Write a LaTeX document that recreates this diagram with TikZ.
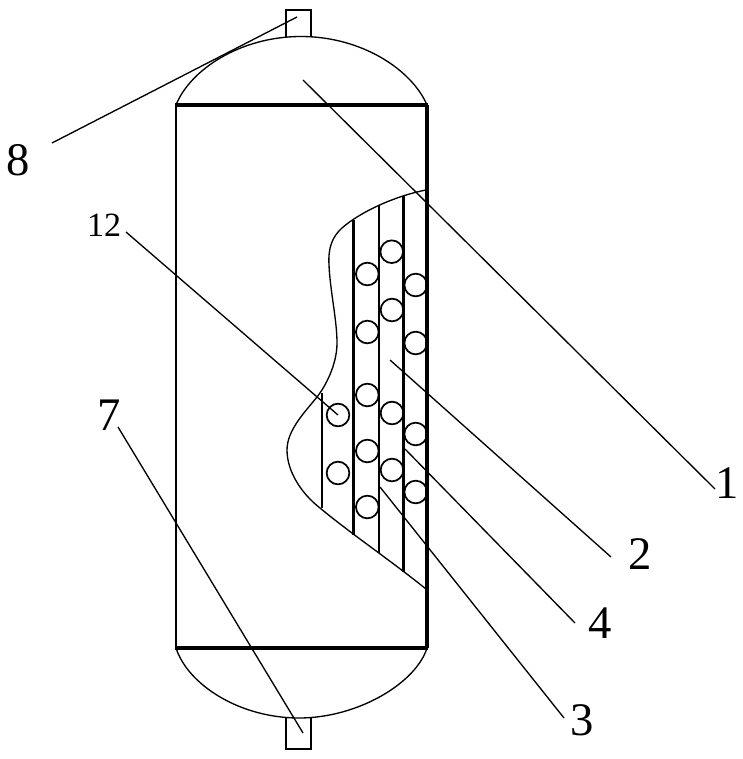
\documentclass[tikz,border=0pt]{standalone}
\usepackage{fontspec}
\setmainfont{Liberation Serif}
\tikzset{
 wall/.style={line width=2.6pt,black},
 sidewall/.style={line width=1.5pt,black},
 rightwall/.style={line width=2.4pt,black},
 outline/.style={line width=1.2pt,black},
 fine/.style={line width=1pt,black},
 tube/.style={line width=1.7pt,black},
 tubethin/.style={line width=1.1pt,black},
 leader/.style={line width=1pt,black},
 ball/.style={circle,draw=black,line width=1.3pt,minimum size=17pt,inner sep=0pt},
 lab/.style={font=\fontsize{35}{35}\selectfont,inner sep=0pt},
 smalllab/.style={font=\fontsize{25.5}{25.5}\selectfont,inner sep=0pt}
}
\begin{document}
\begin{tikzpicture}[x=0.75pt,y=-0.75pt]
\useasboundingbox (0,0) rectangle (742,759);
\fill[white] (0,0) rectangle (742,759);
% nozzles
\draw[outline] (286,37) -- (286,10) -- (311,10) -- (311,37);
\draw[outline] (286,718) -- (286,749) -- (311,749) -- (311,718);
% heads
\draw[fine] (176,105) .. controls (190,70) and (240,36.5) .. (301,36.5) .. controls (362,36.5) and (412,70) .. (427,105);
\draw[fine] (176,648) .. controls (188,685) and (240,718) .. (299,718) .. controls (358,718) and (416,683) .. (427,648);
% body
\draw[wall] (175,105) -- (428,105);
\draw[wall] (175,648) -- (428,648);
\draw[sidewall] (176,105) -- (176,648);
\draw[rightwall] (427,105) -- (427,648);
% cut-away
\draw[fine] (426,190) .. controls (395,196) and (360,212) .. (342,228)
 .. controls (332,237) and (328,248) .. (329,265)
 .. controls (330,290) and (337,320) .. (337,343)
 .. controls (337,365) and (325,387) .. (317,397)
 .. controls (305,412) and (287,430) .. (287,450)
 .. controls (287,472) and (302,494) .. (320,508)
 .. controls (350,533) and (390,560) .. (426,589);
% tubes
\draw[tube] (322,393) -- (322,508);
\draw[tube] (353.5,220) -- (353.5,535);
\draw[tubethin] (379,205) -- (379,553);
\draw[tube] (403.5,196) -- (403.5,572);
% balls
\node[ball] (b1) at (391.7,251.7) {};
\node[ball] (b2) at (367.3,274) {};
\node[ball] (b3) at (415.7,285) {};
\node[ball] (b4) at (392,310) {};
\node[ball] (b5) at (367.3,332) {};
\node[ball] (b6) at (415.7,343) {};
\node[ball] (b7) at (367.3,395) {};
\node[ball] (b8) at (392,413) {};
\node[ball] (b9) at (338,415) {};
\node[ball] (b10) at (415.7,434) {};
\node[ball] (b11) at (367.3,451) {};
\node[ball] (b12) at (392,470) {};
\node[ball] (b13) at (338,473) {};
\node[ball] (b14) at (415.7,492) {};
\node[ball] (b15) at (367.3,507) {};
% labels
\node[lab] (l8) at (18,160) {8};
\node[lab] (l1) at (727,483) {1};
\node[lab] (l2) at (640,554) {2};
\node[lab] (l4) at (600,623) {4};
\node[lab] (l3) at (582,720) {3};
\node[lab] (l7) at (109,415) {7};
\node[smalllab] (l12) at (104,225) {12};
% leaders
\coordinate (c8a) at (52,143); \coordinate (c8b) at (297,17);
\coordinate (c1a) at (303,80); \coordinate (c1b) at (715,489);
\coordinate (c2a) at (390,360); \coordinate (c2b) at (611,557);
\coordinate (c4a) at (405,449); \coordinate (c4b) at (575,623);
\coordinate (c3a) at (380,487); \coordinate (c3b) at (564,718);
\coordinate (c7a) at (118,427); \coordinate (c7b) at (303,733);
\coordinate (c12a) at (126,232); \coordinate (c12b) at (338,415);
\draw[leader] (c8a) -- (c8b);
\draw[leader] (c1a) -- (c1b);
\draw[leader] (c2a) -- (c2b);
\draw[leader] (c4a) -- (c4b);
\draw[leader] (c3a) -- (c3b);
\draw[leader] (c7a) -- (c7b);
\draw[leader] (c12a) -- (c12b);
\end{tikzpicture}
\end{document}
